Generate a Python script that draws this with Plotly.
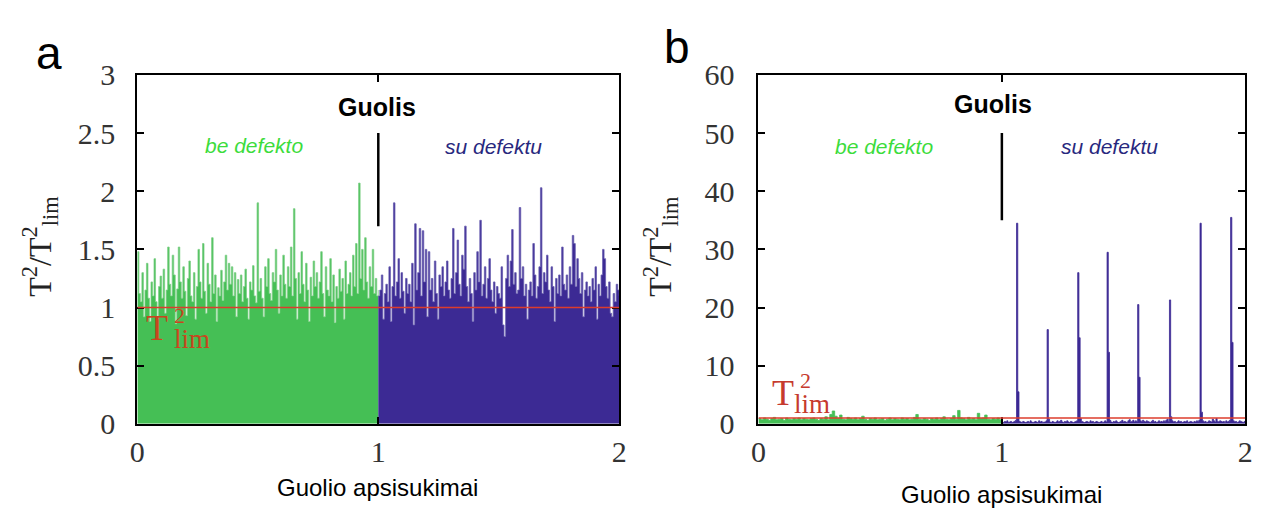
import numpy as np
import plotly.graph_objects as go

W, H = 1275, 524

# ---------------- data ----------------
# panel a: without defect (green) and with defect (blue), T2/T2lim
a_green = [
    1.48, 1.12, 1.05, 1.30, 0.92, 1.15, 1.38, 1.08, 0.88, 1.22, 1.10, 1.42, 1.05, 0.90, 1.18, 1.27, 1.08, 1.33, 0.95, 1.15,
    1.52, 1.20, 1.10, 1.45, 1.28, 0.86, 1.16, 1.52, 1.22, 1.08, 1.35, 1.14, 0.93, 1.25, 1.40, 1.10, 1.05, 1.30, 0.90, 1.18,
    1.50, 1.22, 1.08, 1.55, 1.14, 0.95, 1.38, 1.20, 1.05, 1.60, 1.12, 1.28, 0.88, 1.17, 1.10, 1.32, 1.06, 1.22, 1.45, 1.15,
    1.38, 1.20, 1.35, 1.10, 1.30, 0.92, 1.24, 1.12, 1.28, 1.05, 1.18, 1.33, 1.08, 0.90, 1.22, 1.15, 1.36, 1.10, 1.04, 1.90,
    1.14, 1.25, 1.08, 0.92, 1.35, 1.18, 1.42, 1.12, 1.06, 1.30, 1.22, 1.50, 1.15, 0.95, 1.28, 1.10, 1.45, 1.20, 1.08, 1.35,
    1.18, 1.52, 1.10, 1.85, 1.25, 0.90, 1.30, 1.12, 1.48, 1.20, 1.05, 1.38, 1.15, 0.88, 1.26, 1.10, 1.40, 1.18, 1.30, 1.08,
    1.22, 1.48, 1.12, 0.92, 1.35, 1.15, 1.10, 1.42, 1.05, 1.28, 0.87, 1.18, 1.08, 1.33, 1.14, 1.25, 0.90, 1.40, 1.12, 1.20,
    1.30, 1.10, 1.45, 1.18, 1.55, 1.12, 2.07, 1.25, 1.50, 1.15, 1.60, 1.22, 1.08, 1.35, 1.18, 1.50, 1.12, 1.25, 1.10, 1.15,
]
a_blue = [
    1.10, 1.15, 1.28, 0.90, 1.12, 1.20, 1.05, 1.35, 0.88, 1.18, 1.90, 1.10, 1.22, 1.42, 1.08, 1.30, 1.14, 0.95, 1.25, 1.12,
    1.20, 1.05, 1.38, 0.85, 1.72, 1.15, 1.30, 1.68, 1.10, 1.66, 1.22, 1.50, 0.92, 1.48, 1.15, 1.25, 1.05, 1.40, 1.12, 0.90,
    1.28, 1.18, 1.35, 1.10, 1.22, 1.40, 1.15, 1.08, 1.25, 1.68, 1.12, 1.30, 1.58, 1.20, 1.10, 1.45, 1.33, 1.70, 1.18, 1.05,
    1.25, 1.12, 0.88, 1.30, 1.15, 1.48, 1.22, 1.75, 1.10, 1.20, 1.35, 1.08, 1.25, 1.42, 1.15, 1.05, 1.22, 0.95, 1.18, 1.12,
    1.08, 1.35, 0.85, 0.75, 1.25, 1.45, 1.18, 1.40, 1.67, 1.20, 1.30, 1.12, 1.15, 1.86, 1.25, 1.35, 1.10, 1.20, 0.90, 1.15,
    1.22, 1.10, 1.55, 1.28, 1.08, 1.18, 1.35, 2.03, 1.12, 1.30, 1.22, 1.45, 1.15, 1.05, 1.35, 1.18, 0.88, 1.25, 1.12, 1.28,
    1.10, 1.52, 1.20, 1.15, 1.28, 1.08, 1.35, 1.20, 1.62, 1.55, 1.18, 1.42, 1.25, 1.12, 1.30, 0.92, 1.15, 1.22, 1.10, 1.18,
    1.05, 1.25, 1.15, 1.35, 0.90, 1.20, 1.10, 1.28, 1.50, 1.42, 1.18, 1.08, 1.22, 0.95, 0.92, 1.12, 1.05, 1.20, 1.15, 1.10,
]
# panel b
b_green = [
    0.9, 0.7, 1.0, 0.8, 0.6, 0.9, 1.1, 0.7, 0.8, 0.9, 0.6, 1.0, 0.8, 0.7, 0.9, 0.8, 1.0, 0.7, 0.9, 0.8,
    0.7, 0.9, 1.0, 0.8, 0.6, 0.9, 0.8, 1.2, 0.7, 1.6, 2.2, 1.3, 0.9, 1.5, 0.8, 0.7, 1.1, 0.9, 0.8, 1.0,
    0.7, 0.9, 1.3, 0.8, 0.6, 0.9, 0.8, 1.0, 0.7, 0.8, 0.9, 0.6, 0.8, 1.0, 0.7, 0.9, 0.8, 0.7, 1.0, 0.8,
    0.9, 0.7, 0.8, 1.1, 1.6, 0.8, 0.7, 0.9, 0.8, 0.6, 0.9, 0.8, 1.0, 0.7, 0.9, 1.2, 0.8, 0.7, 0.9, 1.4,
    0.8, 2.3, 1.0, 0.9, 0.7, 1.1, 0.8, 0.9, 0.7, 1.8, 0.9, 1.0, 1.5, 0.8, 0.7, 0.9, 0.8, 1.0, 0.7, 0.9,
]
b_blue = [
    0.3, 0.2, 0.4, 0.3, 0.5, 0.2, 0.3, 0.4, 0.2, 0.3, 0.4, 0.6, 34.5, 5.5, 0.4, 0.3, 0.2, 0.4, 0.3, 0.2,
    0.3, 0.4, 0.2, 0.5, 0.3, 0.2, 0.3, 0.4, 0.3, 0.2, 0.5, 0.3, 0.4, 0.2, 0.3, 0.3, 0.5, 16.2, 0.8, 0.3,
    0.2, 0.4, 0.3, 0.2, 0.3, 0.5, 0.3, 0.4, 0.6, 0.3, 0.2, 0.4, 0.3, 0.5, 0.3, 0.2, 0.4, 0.3, 0.2, 0.3,
    0.4, 0.5, 26.0, 14.8, 0.9, 0.4, 0.3, 0.2, 0.3, 0.4, 0.3, 0.2, 0.5, 0.3, 0.4, 0.2, 0.3, 0.4, 0.3, 0.2,
    0.3, 0.4, 0.2, 0.3, 0.5, 0.3, 29.5, 12.3, 0.6, 0.3, 0.2, 0.4, 0.3, 0.5, 0.3, 0.2, 0.3, 0.4, 0.6, 0.3,
    0.4, 0.3, 0.2, 0.5, 0.7, 0.3, 0.4, 0.6, 0.3, 0.5, 0.4, 20.5, 8.0, 0.5, 0.3, 0.6, 0.4, 0.3, 0.5, 0.4,
    0.3, 0.2, 0.4, 0.6, 0.3, 0.4, 0.2, 0.3, 0.5, 0.3, 0.4, 0.3, 0.5, 0.4, 0.6, 0.8, 0.4, 21.3, 1.2, 0.5,
    0.3, 0.4, 0.2, 0.3, 0.5, 0.3, 0.4, 0.2, 0.3, 0.4, 0.3, 0.5, 0.2, 0.3, 0.4, 0.3, 0.2, 0.4, 0.3, 0.5,
    0.4, 0.6, 34.5, 2.0, 0.5, 0.3, 0.4, 0.2, 0.3, 0.5, 0.4, 0.3, 0.8, 0.5, 0.3, 0.9, 0.4, 0.3, 0.5, 0.4,
    0.3, 0.4, 0.2, 0.5, 0.3, 0.4, 0.6, 35.5, 14.0, 0.5, 0.3, 0.4, 0.2, 0.3, 0.5, 0.4, 0.3, 0.2, 0.4, 0.3,
]
T2_LIM = 1.0
x_ticks = [0, 1, 2]
bearing_line_a = [2.5, 1.70]
bearing_line_b = [50, 35]

# ---------------- styles ----------------
GREEN = "#45BF55"
GREEN_EDGE = "#7FCF88"
BLUE = "#3C2A94"
BLUE_EDGE = "#6A5FB0"
RED = "#DD3C2C"
SERIF = "Liberation Serif, Times New Roman, serif"
SANS = "Liberation Sans, Arial, sans-serif"


def px(x, y):
    return x / W, 1 - y / H


fig = go.Figure()

xa_g = np.linspace(0, 1, len(a_green))
xa_b = np.linspace(1, 2, len(a_blue))
xb_g = np.linspace(0, 1, len(b_green))
xb_b = np.linspace(1, 2, len(b_blue))

for xs, ys, col, edge, xr, yr in [
    (xa_g, a_green, GREEN, GREEN_EDGE, "x", "y"),
    (xa_b, a_blue, BLUE, BLUE_EDGE, "x", "y"),
    (xb_g, b_green, GREEN, GREEN, "x2", "y2"),
    (xb_b, b_blue, BLUE, BLUE, "x2", "y2"),
]:
    fig.add_trace(go.Scatter(x=xs, y=ys, mode="lines", fill="tozeroy",
                             line=dict(color=edge, width=0.8, shape="hv"), fillcolor=col,
                             xaxis=xr, yaxis=yr, showlegend=False, hoverinfo="skip"))

axis_common = dict(showline=True, linecolor="black", linewidth=2, mirror="allticks",
                   ticks="inside", ticklen=7, tickwidth=2, tickcolor="black",
                   showgrid=False, zeroline=False,
                   tickfont=dict(family=SERIF, size=30, color="#333333"))

ybot, ytop = 435, 62
fig.update_layout(
    width=W, height=H, margin=dict(l=0, r=0, t=0, b=0),
    paper_bgcolor="white", plot_bgcolor="white",
    xaxis=dict(domain=[131 / W, 619 / W], range=[0, 2], tickvals=x_ticks,
               anchor="y", ticklabelstandoff=0, **axis_common),
    yaxis=dict(domain=[1 - ybot / H, 1 - ytop / H], range=[0, 3], dtick=0.5,
               anchor="x", ticklabelstandoff=14, **axis_common),
    xaxis2=dict(domain=[760 / W, 1253 / W], range=[0, 2], tickvals=x_ticks,
                anchor="y2", ticklabelstandoff=0, **axis_common),
    yaxis2=dict(domain=[1 - ybot / H, 1 - ytop / H], range=[0, 60], dtick=10,
                anchor="x2", ticklabelstandoff=16, **axis_common),
)

# limit lines and bearing marker lines
for xr, yr, seg in [("x", "y", bearing_line_a), ("x2", "y2", bearing_line_b)]:
    fig.add_shape(type="line", xref=xr, yref=yr, x0=0, x1=2, y0=T2_LIM, y1=T2_LIM,
                  line=dict(color=RED, width=1.5), layer="above")
    fig.add_shape(type="line", xref=xr, yref=yr, x0=1, x1=1, y0=seg[0], y1=seg[1],
                  line=dict(color="black", width=2.5), layer="above")

ann = []


def text(x, y, s, size, color="black", family=SANS, angle=0, xanchor="center"):
    xp, yp = px(x, y)
    ann.append(dict(x=xp, y=yp, xref="paper", yref="paper", text=s, showarrow=False,
                    xanchor=xanchor, yanchor="middle", textangle=angle,
                    font=dict(family=family, size=size, color=color)))


# panel letters
text(42, 38, "a", 46)
text(678, 32, "b", 46)
# headings
text(374, 96, "<b>Guolis</b>", 25)
text(998, 93, "<b>Guolis</b>", 25)
text(249, 137, "<i>be defekto</i>", 21, color="#3CDC3C")
text(492, 138, "<i>su defektu</i>", 21, color="#28287E")
text(887, 138, "<i>be defekto</i>", 21, color="#3CDC3C")
text(1116, 138, "<i>su defektu</i>", 21, color="#28287E")
# x titles
text(374, 503, "Guolio apsisukimai", 24)
text(1006, 511, "Guolio apsisukimai", 24)
# y titles
ytitle = "T<sup>2</sup>/T<sup>2</sup><sub>lim</sub>"
text(32, 245, ytitle, 32, color="#222222", family=SERIF, angle=-90)
text(660, 245, ytitle, 32, color="#222222", family=SERIF, angle=-90)
# T2lim labels
LIMC = "#C8461E"
text(151, 333, "T", 36, color=LIMC, family=SERIF)
text(174, 319, "2", 22, color=LIMC, family=SERIF)
text(186, 344, "lim", 27, color=LIMC, family=SERIF)
text(785, 402, "T", 36, color="#C63A2E", family=SERIF)
text(808, 389, "2", 22, color="#C63A2E", family=SERIF)
text(814, 414, "lim", 27, color="#C63A2E", family=SERIF)

fig.update_layout(annotations=ann)
fig.write_html("out.html")
